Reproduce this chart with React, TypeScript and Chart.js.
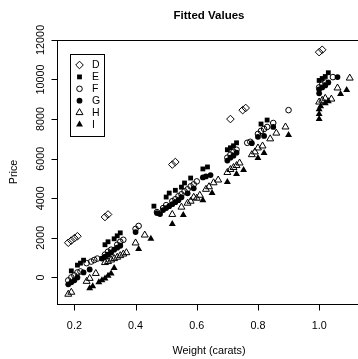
import React, { useEffect, useRef } from 'react';
import { Chart, registerables } from 'chart.js';

Chart.register(...registerables);

const FONT = '"Liberation Sans", Arial, Helvetica, sans-serif';

const xTicks = [0.2, 0.4, 0.6, 0.8, 1.0];
const xTickLabels = ['0.2', '0.4', '0.6', '0.8', '1.0'];
const yTicks = [0, 2000, 4000, 6000, 8000, 10000, 12000];
const yTickLabels = ['0', '2000', '4000', '6000', '8000', '10000', '12000'];

const X_MIN = 0.1432;
const X_MAX = 1.1368;
const Y_MIN = -1344;
const Y_MAX = 11994;

const titleText = 'Fitted Values';
const xLabel = 'Weight (carats)';
const yLabel = 'Price';

const colorNames = ['D', 'E', 'F', 'G', 'H', 'I'];

const dCarat = [0.18, 0.19, 0.2, 0.21, 0.3, 0.31, 0.52, 0.53, 0.71, 0.75, 0.76, 1.0, 1.01];
const dPrice = [1750, 1860, 1980, 2080, 3050, 3180, 5700, 5830, 8000, 8450, 8560, 11380, 11500];

const eCarat = [0.19, 0.21, 0.22, 0.23, 0.3, 0.31, 0.33, 0.34, 0.35, 0.46, 0.5, 0.51, 0.53, 0.55, 0.56, 0.58, 0.62, 0.635, 0.7, 0.71, 0.72, 0.73, 0.81, 0.83, 1.0, 1.01, 1.02, 1.03];
const ePrice = [330, 620, 720, 870, 1650, 1800, 1950, 2100, 2250, 3600, 4060, 4260, 4400, 4560, 4770, 5020, 5480, 5580, 6450, 6550, 6650, 6800, 7750, 7950, 9950, 10050, 10150, 10340];

const fCarat = [0.18, 0.19, 0.2, 0.21, 0.22, 0.24, 0.255, 0.265, 0.275, 0.3, 0.31, 0.32, 0.34, 0.35, 0.36, 0.4, 0.41, 0.47, 0.49, 0.5, 0.52, 0.53, 0.54, 0.55, 0.56, 0.57, 0.58, 0.59, 0.6, 0.7, 0.71, 0.72, 0.73, 0.765, 0.775, 0.8, 0.81, 0.82, 0.83, 0.85, 0.9, 1.0, 1.01, 1.02, 1.045];
const fPrice = [-150, 0, 100, 250, 300, 720, 800, 880, 950, 1150, 1300, 1400, 1650, 1800, 1900, 2450, 2600, 3300, 3500, 3650, 3850, 3950, 4100, 4200, 4350, 4450, 4600, 4700, 4850, 6050, 6200, 6350, 6450, 6800, 6850, 7250, 7400, 7500, 7600, 7800, 8450, 9600, 9750, 9850, 10120];

const gCarat = [0.18, 0.19, 0.2, 0.21, 0.23, 0.25, 0.29, 0.3, 0.31, 0.32, 0.33, 0.34, 0.35, 0.4, 0.47, 0.48, 0.49, 0.5, 0.51, 0.52, 0.53, 0.54, 0.55, 0.57, 0.59, 0.62, 0.63, 0.645, 0.7, 0.71, 0.72, 0.73, 0.78, 0.8, 0.82, 0.85, 1.0, 1.0, 1.01, 1.02, 1.03, 1.06];
const gPrice = [-350, -250, -150, 0, 250, 400, 950, 1050, 1150, 1250, 1400, 1500, 1600, 2290, 3250, 3200, 3400, 3500, 3600, 3700, 3800, 3900, 4050, 4250, 4500, 5050, 5100, 5170, 5900, 6050, 6150, 6300, 6780, 7100, 7150, 7600, 9300, 9500, 9600, 9700, 9850, 10120];

const hCarat = [0.18, 0.19, 0.24, 0.25, 0.27, 0.3, 0.31, 0.32, 0.33, 0.34, 0.35, 0.36, 0.37, 0.4, 0.43, 0.52, 0.55, 0.57, 0.58, 0.59, 0.6, 0.61, 0.63, 0.64, 0.655, 0.67, 0.7, 0.71, 0.72, 0.73, 0.74, 0.78, 0.79, 0.8, 0.815, 0.84, 0.86, 0.89, 1.0, 1.01, 1.02, 1.04, 1.06, 1.1];
const hPrice = [-850, -750, -200, -50, 200, 750, 800, 880, 950, 1020, 1100, 1180, 1250, 1740, 2140, 3180, 3550, 3750, 3850, 4050, 4000, 4150, 4450, 4580, 4780, 4920, 5300, 5450, 5550, 5650, 5780, 6200, 6340, 6540, 6640, 7000, 7290, 7600, 8860, 8950, 9050, 9010, 9570, 10070];

const iCarat = [0.25, 0.26, 0.28, 0.29, 0.3, 0.31, 0.32, 0.33, 0.41, 0.45, 0.52, 0.556, 0.62, 0.65, 0.7, 0.73, 0.753, 0.8, 0.82, 0.9, 1.0, 1.0, 1.0, 1.005, 1.02, 1.03, 1.07, 1.09];
const iPrice = [-550, -450, -250, -150, -50, 80, 200, 470, 1430, 1950, 2700, 3150, 3900, 4260, 4820, 5220, 5420, 6030, 6290, 7190, 8000, 8250, 8500, 8650, 8800, 8900, 9260, 9470];

type Sym = { style: string; radius: number; filled: boolean };
const symbols: Sym[] = [
  { style: 'rectRot', radius: 3.8, filled: false },
  { style: 'rect', radius: 3.4, filled: true },
  { style: 'circle', radius: 2.8, filled: false },
  { style: 'circle', radius: 2.9, filled: true },
  { style: 'triangle', radius: 4.0, filled: false },
  { style: 'triangle', radius: 4.0, filled: true },
];

const seriesCarat = [dCarat, eCarat, fCarat, gCarat, hCarat, iCarat];
const seriesPrice = [dPrice, ePrice, fPrice, gPrice, hPrice, iPrice];

function drawSymbol(ctx: CanvasRenderingContext2D, s: Sym, x: number, y: number) {
  const r = s.radius;
  ctx.beginPath();
  if (s.style === 'circle') {
    ctx.arc(x, y, r, 0, Math.PI * 2);
  } else if (s.style === 'rect') {
    const h = r * Math.SQRT1_2;
    ctx.rect(x - h, y - h, 2 * h, 2 * h);
  } else if (s.style === 'rectRot') {
    ctx.moveTo(x, y - r);
    ctx.lineTo(x + r, y);
    ctx.lineTo(x, y + r);
    ctx.lineTo(x - r, y);
    ctx.closePath();
  } else if (s.style === 'triangle') {
    let a = 0;
    ctx.moveTo(x + Math.sin(a) * r, y - Math.cos(a) * r);
    a += (2 * Math.PI) / 3;
    ctx.lineTo(x + Math.sin(a) * r, y - Math.cos(a) * r);
    a += (2 * Math.PI) / 3;
    ctx.lineTo(x + Math.sin(a) * r, y - Math.cos(a) * r);
    ctx.closePath();
  }
  if (s.filled) {
    ctx.fillStyle = '#000';
    ctx.fill();
  } else {
    ctx.strokeStyle = '#000';
    ctx.lineWidth = 1;
    ctx.stroke();
  }
}

const rAxesPlugin = {
  id: 'rAxes',
  afterDraw(chart: any) {
    const { ctx, chartArea: a, scales } = chart;
    const xs = scales.x;
    const ys = scales.y;
    ctx.save();
    ctx.strokeStyle = '#000';
    ctx.fillStyle = '#000';
    ctx.lineWidth = 1;
    const L = Math.round(a.left) + 0.5;
    const T = Math.round(a.top) + 0.5;
    const R = Math.round(a.right) + 0.5;
    const B = Math.round(a.bottom) + 0.5;
    ctx.strokeRect(L, T, R - L, B - T);

    // x axis
    ctx.beginPath();
    xTicks.forEach((v) => {
      const px = Math.round(xs.getPixelForValue(v)) + 0.5;
      ctx.moveTo(px, B);
      ctx.lineTo(px, B + 6);
    });
    ctx.stroke();
    ctx.font = `10.8px ${FONT}`;
    ctx.textAlign = 'center';
    ctx.textBaseline = 'alphabetic';
    xTicks.forEach((v, i) => {
      ctx.fillText(xTickLabels[i], xs.getPixelForValue(v), B + 24.5);
    });

    // y axis
    ctx.beginPath();
    yTicks.forEach((v) => {
      const py = Math.round(ys.getPixelForValue(v)) + 0.5;
      ctx.moveTo(L, py);
      ctx.lineTo(L - 6, py);
    });
    ctx.stroke();
    yTicks.forEach((v, i) => {
      const py = ys.getPixelForValue(v);
      ctx.save();
      ctx.translate(L - 13.5, py);
      ctx.rotate(-Math.PI / 2);
      ctx.fillText(yTickLabels[i], 0, 0);
      ctx.restore();
    });

    // axis titles
    ctx.fillText(xLabel, (a.left + a.right) / 2, B + 49);
    ctx.save();
    ctx.translate(16.5, (a.top + a.bottom) / 2);
    ctx.rotate(-Math.PI / 2);
    ctx.fillText(yLabel, 0, 0);
    ctx.restore();

    // main title
    ctx.font = `bold 11.5px ${FONT}`;
    ctx.fillText(titleText, (a.left + a.right) / 2, 18.5);

    // legend
    const bx = 70.5, by = 54.5, bw = 34, bh = 82;
    ctx.fillStyle = '#fff';
    ctx.fillRect(bx, by, bw, bh);
    ctx.strokeStyle = '#000';
    ctx.strokeRect(bx, by, bw, bh);
    ctx.font = `10.5px ${FONT}`;
    ctx.textAlign = 'left';
    ctx.textBaseline = 'middle';
    colorNames.forEach((name, i) => {
      const yy = 65 + i * 11.9;
      drawSymbol(ctx, symbols[i], 79.5, yy);
      ctx.fillStyle = '#000';
      ctx.fillText(name, 92, yy + 0.5);
    });
    ctx.restore();
  },
};

export default function App() {
  const ref = useRef<HTMLCanvasElement>(null);
  useEffect(() => {
    const canvas = ref.current;
    if (!canvas) return;
    const datasets = colorNames.map((name, i) => {
      const s = symbols[i];
      return {
        label: name,
        data: seriesCarat[i].map((c, j) => ({ x: c, y: seriesPrice[i][j] })),
        pointStyle: s.style,
        pointRadius: s.radius,
        pointBackgroundColor: s.filled ? '#000' : 'rgba(0,0,0,0)',
        pointBorderColor: '#000',
        pointBorderWidth: s.filled ? 0 : 1,
        showLine: false,
      };
    });
    const chart = new Chart(canvas, {
      type: 'scatter',
      data: { datasets } as any,
      options: {
        responsive: false,
        animation: false,
        devicePixelRatio: 1,
        events: [],
        layout: { autoPadding: false, padding: { left: 57, top: 40, right: 1, bottom: 55 } },
        scales: {
          x: { type: 'linear', display: false, min: X_MIN, max: X_MAX },
          y: { type: 'linear', display: false, min: Y_MIN, max: Y_MAX },
        },
        plugins: {
          legend: { display: false },
          tooltip: { enabled: false },
          title: { display: false },
        },
      } as any,
      plugins: [rAxesPlugin],
    });
    return () => chart.destroy();
  }, []);
  return (
    <div style={{ position: 'absolute', left: 0, top: 0, width: 358, height: 359, overflow: 'hidden', background: '#fff' }}>
      <canvas ref={ref} width={362} height={359} style={{ display: 'block', width: 362, height: 359 }} />
    </div>
  );
}
